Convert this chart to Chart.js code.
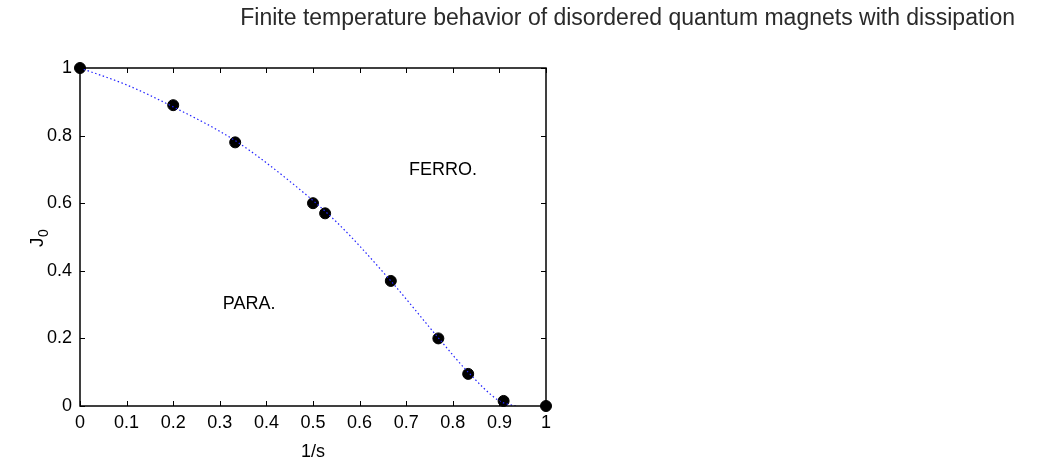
<!DOCTYPE html>
<html>
<head>
<meta charset="utf-8">
<script src="https://cdn.jsdelivr.net/npm/chart.js@4/dist/chart.umd.min.js"></script>
<style>
  html, body { margin: 0; padding: 0; background: #fff; }
  #wrap { width: 1037px; height: 460px; }
</style>
</head>
<body>
<div id="wrap"><canvas id="phaseChart" width="1037" height="460"></canvas></div>
<script>
// data
const invS = [0, 0.2, 0.333, 0.5, 0.526, 0.667, 0.769, 0.833, 0.909, 1];
const j0 = [1, 0.89, 0.78, 0.6, 0.57, 0.37, 0.2, 0.095, 0.015, 0];
// dotted guide curve
const curveX = [0, 0.1, 0.2, 0.333, 0.45, 0.55, 0.667, 0.77, 0.833, 0.9, 0.935];
const curveY = [1, 0.95, 0.885, 0.785, 0.665, 0.545, 0.37, 0.2, 0.1, 0.015, 0];
const xTicks = [0, 0.1, 0.2, 0.3, 0.4, 0.5, 0.6, 0.7, 0.8, 0.9, 1];
const yTicks = [0, 0.2, 0.4, 0.6, 0.8, 1];
const regionLabels = [
  { text: 'FERRO.', x: 0.779, y: 0.697 },
  { text: 'PARA.', x: 0.363, y: 0.302 }
];
const pageTitle = 'Finite temperature behavior of disordered quantum magnets with dissipation';

const sans = '"Liberation Sans", Arial, sans-serif';

// inward ticks, frame, annotations, page title
const decorPlugin = {
  id: 'decor',
  afterDatasetsDraw(chart) {
    const { ctx, chartArea: a, scales: { x, y } } = chart;
    ctx.save();
    ctx.strokeStyle = '#000';
    ctx.lineWidth = 1;
    ctx.beginPath();
    xTicks.forEach(v => {
      const px = Math.round(x.getPixelForValue(v)) + 0.5;
      ctx.moveTo(px, a.bottom); ctx.lineTo(px, a.bottom - 5);
      ctx.moveTo(px, a.top); ctx.lineTo(px, a.top + 5);
    });
    yTicks.forEach(v => {
      const py = Math.round(y.getPixelForValue(v)) + 0.5;
      ctx.moveTo(a.left, py); ctx.lineTo(a.left + 5, py);
      ctx.moveTo(a.right, py); ctx.lineTo(a.right - 5, py);
    });
    ctx.stroke();
    ctx.lineWidth = 1.5;
    ctx.strokeRect(a.left, a.top, a.right - a.left, a.bottom - a.top);

    ctx.fillStyle = '#000';
    ctx.font = '18px ' + sans;
    ctx.textAlign = 'center';
    ctx.textBaseline = 'middle';
    regionLabels.forEach(l => {
      ctx.fillText(l.text, x.getPixelForValue(l.x), y.getPixelForValue(l.y));
    });

    // axis titles
    ctx.fillText('1/s', 313, 452);
    ctx.save();
    ctx.translate(38, (a.top + a.bottom) / 2);
    ctx.rotate(-Math.PI / 2);
    ctx.textAlign = 'left';
    ctx.font = '19px ' + sans;
    ctx.fillText('J', -10, 0);
    ctx.font = '14px ' + sans;
    ctx.fillText('0', 0, 6);
    ctx.restore();

    ctx.fillStyle = '#2a2a2a';
    ctx.font = '23px ' + sans;
    ctx.textAlign = 'right';
    ctx.textBaseline = 'alphabetic';
    ctx.fillText(pageTitle, 1015, 25);
    ctx.restore();
  }
};

new Chart(document.getElementById('phaseChart').getContext('2d'), {
  type: 'scatter',
  data: {
    datasets: [
      {
        type: 'line',
        data: curveX.map((v, i) => ({ x: v, y: curveY[i] })),
        borderColor: '#2222ff',
        borderWidth: 1.2,
        borderDash: [1.5, 2.5],
        pointRadius: 0,
        cubicInterpolationMode: 'monotone',
        fill: false
      },
      {
        data: invS.map((v, i) => ({ x: v, y: j0[i] })),
        backgroundColor: '#000',
        borderColor: '#000',
        borderWidth: 1,
        pointRadius: 5.5,
        pointHoverRadius: 5.5,
        clip: false
      }
    ]
  },
  options: {
    responsive: false,
    animation: false,
    events: [],
    layout: { padding: { top: 68, right: 491, bottom: 0, left: 0 } },
    plugins: { legend: { display: false }, tooltip: { enabled: false } },
    scales: {
      x: {
        type: 'linear', min: 0, max: 1,
        afterFit: (s) => { s.height = 54; },
        afterBuildTicks: (s) => { s.ticks = xTicks.map(v => ({ value: v })); },
        grid: { display: false, drawTicks: false },
        border: { display: false },
        ticks: {
          color: '#000', padding: 6,
          font: { family: sans, size: 18 },
          callback: (v) => String(v)
        }
      },
      y: {
        type: 'linear', min: 0, max: 1,
        afterFit: (s) => { s.width = 80; },
        afterBuildTicks: (s) => { s.ticks = yTicks.map(v => ({ value: v })); },
        grid: { display: false, drawTicks: false },
        border: { display: false },
        ticks: {
          color: '#000', padding: 8,
          font: { family: sans, size: 18 },
          callback: (v) => String(v)
        }
      }
    }
  },
  plugins: [decorPlugin]
});
</script>
</body>
</html>
